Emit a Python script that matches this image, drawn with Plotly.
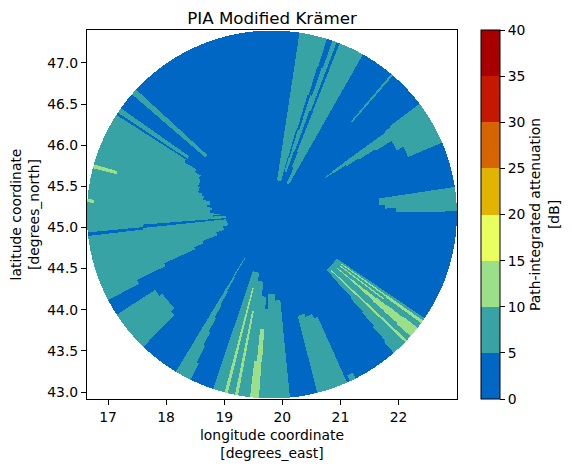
import numpy as np
import plotly.graph_objects as go

# radar site and coverage
site_lon = 19.82
site_lat = 45.158
max_range = 250.0  # km
km_per_deg_lon = 78.3
km_per_deg_lat = 111.5

# colour classes of the colorbar, 5 dB wide
class_edges = [0, 5, 10, 15, 20, 25, 30, 35, 40]
class_colors = ["#0068c4", "#38a3a5", "#9bdf88", "#e9ff60",
                "#e0b400", "#d66400", "#c41800", "#a80000"]
base_pia = 2.5   # blue, everything inside the circle
teal_pia = 7.5
green_pia = 12.5

x_ticks = [17, 18, 19, 20, 21, 22]
y_ticks = [43.0, 43.5, 44.0, 44.5, 45.0, 45.5, 46.0, 46.5, 47.0]
cbar_ticks = [0, 5, 10, 15, 20, 25, 30, 35, 40]

# sectors: (azimuth from, azimuth to, range from, range to)
west_teal = [
    (242.3, 244, 203, 250), (244, 245.5, 160, 250), (245.5, 247, 114, 250),
    (247, 249, 100, 250), (249, 252, 79, 250), (252, 256, 68, 250),
    (256, 261, 61, 250), (261, 268, 62, 250), (268, 269.5, 79, 250),
    (269.5, 271, 70, 250), (271, 274, 84, 250), (274, 276.5, 81, 250),
    (276.5, 279, 88, 250), (279, 282, 85, 250), (282, 285, 95, 250),
    (285, 287, 98, 250), (287, 291, 104, 250), (291, 296, 107, 250),
    (296, 299, 110, 250), (299, 301, 119, 250), (301, 302.8, 138, 250),
]
west_stripes = [(303.6, 305.3, 137, 250), (310.8, 312.8, 119, 250)]
west_gap = [(263.3, 264.4, 175, 250), (264, 265.5, 60, 175)]
west_green = [(284.6, 285.8, 217, 250), (273.8, 274.8, 241, 250)]

sw_patch = [(224, 226, 190, 250), (226, 234, 183, 250), (234, 237, 188, 250)]
sw_wedge = [
    (211, 212, 69, 99), (210.2, 211.6, 99, 120), (209.5, 211.5, 120, 140),
    (208.9, 211.5, 140, 160), (208.2, 211.4, 160, 180), (207.5, 211.4, 180, 200),
    (206.8, 211.3, 200, 225), (206, 211.3, 225, 250),
]

south_teal = [
    (192, 198.5, 81, 250), (187, 192, 92, 250), (184, 187, 112, 250),
    (182.5, 184, 129, 250), (178, 182.5, 108, 250), (174.4, 178, 117, 250),
]
south_green = [(193.8, 194.8, 103, 250), (190.5, 191.5, 134, 250),
               (183.8, 185.8, 156, 200), (184, 186.8, 200, 250)]

se_patch = [(162, 165.8, 142, 250), (158, 162, 146, 250), (156, 158, 152, 250),
            (153, 155, 241, 250)]
se_teal = [
    (124.3, 135.8, 106, 130), (124.3, 136.3, 130, 155), (124.3, 137, 155, 180),
    (124.3, 137.6, 180, 205), (124.3, 138.2, 205, 230), (124.3, 138.8, 230, 250),
]
se_green = [
    (125.3, 125.9, 115, 190), (125.2, 126.2, 190, 250), (126.9, 127.5, 115, 190),
    (129.3, 129.9, 115, 140), (129.1, 130.1, 140, 160), (128.9, 130.4, 160, 180),
    (128.6, 130.8, 180, 200), (128.3, 131, 200, 225), (128, 131.4, 225, 250),
    (133.1, 133.9, 110, 250),
]

east_patch = [(81.4, 85, 146, 250), (85, 87, 153, 250), (87, 89, 168, 250)]
ne_patch = [
    (54.8, 55.6, 87, 100), (54.2, 56.2, 100, 120), (54, 57, 120, 140),
    (54, 57.6, 140, 165), (54, 58.3, 165, 190), (53.5, 62.7, 190, 200),
    (53, 67, 200, 250),
]
ne_stripe = [(40.2, 40.9, 165, 250)]

north_teal = [(8.6, 29.5, 47, 250)]
north_gaps = [
    (15.4, 16.4, 47, 80), (15.9, 17, 80, 120), (16.5, 17.8, 120, 170),
    (17, 18.6, 170, 210), (17.3, 19.1, 210, 250),
    (16.4, 25, 47, 60), (19, 25, 60, 70), (19, 22.5, 70, 92),
    (19.8, 21.7, 92, 150), (20.5, 21.5, 150, 250),
]

# regular lon/lat raster, painted sector by sector
lon = np.linspace(16.638, 23.007, 370)
lat = np.linspace(42.915, 47.401, 369)
lon2, lat2 = np.meshgrid(lon, lat)
east_km = (lon2 - site_lon) * km_per_deg_lon
north_km = (lat2 - site_lat) * km_per_deg_lat
rng = np.hypot(east_km, north_km)
az = np.degrees(np.arctan2(east_km, north_km)) % 360

z = np.where(rng <= max_range, base_pia, np.nan)


def paint(sectors, value):
    for a0, a1, r0, r1 in sectors:
        hit = (az >= a0) & (az < a1) & (rng >= r0) & (rng <= r1)
        z[hit] = value


for part in [west_teal, west_stripes, sw_patch, sw_wedge, south_teal, se_patch, se_teal,
             east_patch, ne_patch, ne_stripe, north_teal]:
    paint(part, teal_pia)
paint(west_gap, base_pia)
paint(north_gaps, base_pia)
for part in [west_green, south_green, se_green]:
    paint(part, green_pia)

# stepped colorscale
scale = []
for i, col in enumerate(class_colors):
    scale.append([class_edges[i] / 40, col])
    scale.append([class_edges[i + 1] / 40, col])

font = "DejaVu Sans"
label_size = 13.9

fig = go.Figure()
fig.add_trace(go.Heatmap(
    x=lon, y=lat, z=z, zmin=0, zmax=40, colorscale=scale,
    colorbar=dict(
        x=1.065, xanchor="left", xpad=0, y=0, yanchor="bottom", ypad=0, len=1,
        thickness=19, outlinecolor="black", outlinewidth=1,
        tickmode="array", tickvals=cbar_ticks, ticks="outside", ticklen=5,
        tickwidth=1, tickcolor="black", tickfont=dict(size=label_size),
        title=dict(text="Path-integrated attenuation<br>[dB]", side="right",
                   font=dict(size=label_size)),
    ),
))

# the page keeps its 8 px body margin, so the figure is 8 px smaller than the window
fig.update_layout(
    width=564, height=461,
    margin=dict(l=79, r=115, t=22, b=70, autoexpand=False),
    plot_bgcolor="white", paper_bgcolor="white",
    font=dict(family=font, size=label_size, color="black"),
    title=dict(text="PIA Modified Krämer", x=0.5, xref="paper", xanchor="center",
               y=1, yref="paper", yanchor="bottom", pad=dict(b=6), font=dict(size=16.7)),
    xaxis=dict(title=dict(text="longitude coordinate<br>[degrees_east]", standoff=6,
                          font=dict(size=label_size)),
               automargin=False,
               range=[16.638, 23.007], tickvals=x_ticks, ticks="outside", ticklen=5,
               tickwidth=1, tickcolor="black", showgrid=False, zeroline=False,
               showline=True, linecolor="black", linewidth=1, mirror=True),
    yaxis=dict(title=dict(text="latitude coordinate<br>[degrees_north]", standoff=6,
                          font=dict(size=label_size)),
               automargin=False,
               range=[42.915, 47.401], tickvals=y_ticks, tickformat=".1f", ticks="outside",
               ticklen=5, tickwidth=1, tickcolor="black", showgrid=False, zeroline=False,
               showline=True, linecolor="black", linewidth=1, mirror=True),
)

fig.write_html("out.html")
